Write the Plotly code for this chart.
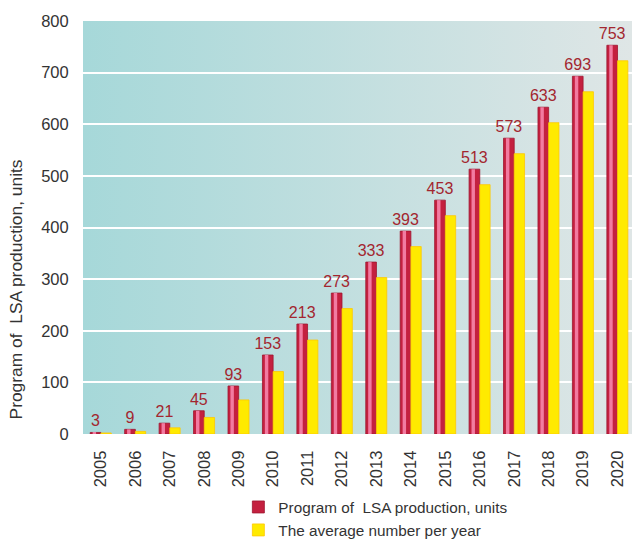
import base64
import plotly.graph_objects as go

years = [str(y) for y in range(2005, 2021)]
program = [3, 9, 21, 45, 93, 153, 213, 273, 333, 393, 453, 513, 573, 633, 693, 753]
average = [2, 5, 12, 32, 66, 121, 182, 243, 303, 363, 423, 483, 543, 603, 663, 723]
yticks = [0, 100, 200, 300, 400, 500, 600, 700, 800]

FONT = "Liberation Sans, Arial, sans-serif"

svg = (
    '<svg xmlns="http://www.w3.org/2000/svg" width="100" height="100" preserveAspectRatio="none">'
    '<defs><linearGradient id="g" x1="0" y1="0" x2="1" y2="0">'
    '<stop offset="0" stop-color="#a6d8d9"/><stop offset="1" stop-color="#dfe6e6"/>'
    '</linearGradient></defs><rect width="100" height="100" fill="url(#g)"/></svg>'
)
bg = "data:image/svg+xml;base64," + base64.b64encode(svg.encode()).decode()

fig = go.Figure()
fig.add_trace(go.Bar(
    x=years, y=program, name="Program of  LSA production, units",
    width=0.31, offset=-0.31, legend="legend",
    marker=dict(color="#c4203f", line=dict(color="#9e1530", width=0.8)),
    text=[str(v) for v in program], textposition="outside",
    constraintext="none",
    textfont=dict(color="#a3262f", size=16, family=FONT),
    cliponaxis=False,
))
fig.add_trace(go.Bar(
    x=years, y=program, showlegend=False, hoverinfo="skip",
    width=0.1, offset=-0.24,
    marker=dict(color="#f27ba1", line=dict(width=0)),
))
fig.add_trace(go.Bar(
    x=years, y=average, name="The average number per year",
    width=0.3, offset=0.0, legend="legend2",
    marker=dict(color="#ffea00", line=dict(color="#ffc800", width=0.8)),
))

legend_common = dict(
    x=0.283, xanchor="left", yanchor="middle",
    orientation="v", bgcolor="rgba(0,0,0,0)",
    font=dict(size=15.3, color="#333333"),
)

fig.update_layout(
    width=632, height=539,
    margin=dict(l=83, r=0, t=21, b=105, autoexpand=False),
    barmode="overlay",
    paper_bgcolor="white",
    plot_bgcolor="rgba(0,0,0,0)",
    font=dict(family=FONT, color="#333333", size=16),
    images=[dict(source=bg, xref="paper", yref="paper", x=0, y=1,
                 sizex=1, sizey=1, sizing="stretch", layer="below")],
    xaxis=dict(
        type="category", range=[-0.52, 15.42],
        tickangle=-90, tickfont=dict(size=16.5, color="#333333"),
        ticks="outside", ticklen=9, tickcolor="rgba(0,0,0,0)",
        showgrid=False, showline=False, zeroline=False,
    ),
    yaxis=dict(
        range=[0, 800], tickvals=yticks,
        tickfont=dict(size=16.5, color="#333333"),
        ticks="outside", ticklen=10, tickcolor="rgba(0,0,0,0)",
        showgrid=True, gridcolor="#ffffff", gridwidth=1.5,
        showline=False, zeroline=False,
    ),
    legend=dict(y=-0.1768, **legend_common),
    legend2=dict(y=-0.2324, **legend_common),
    annotations=[dict(
        text="Program of  LSA production, units", textangle=-90,
        xref="paper", yref="paper", x=-0.122, y=0.35,
        xanchor="center", yanchor="middle", showarrow=False,
        font=dict(size=17.4, color="#333333"),
    )],
)

fig.write_html("out.html")
